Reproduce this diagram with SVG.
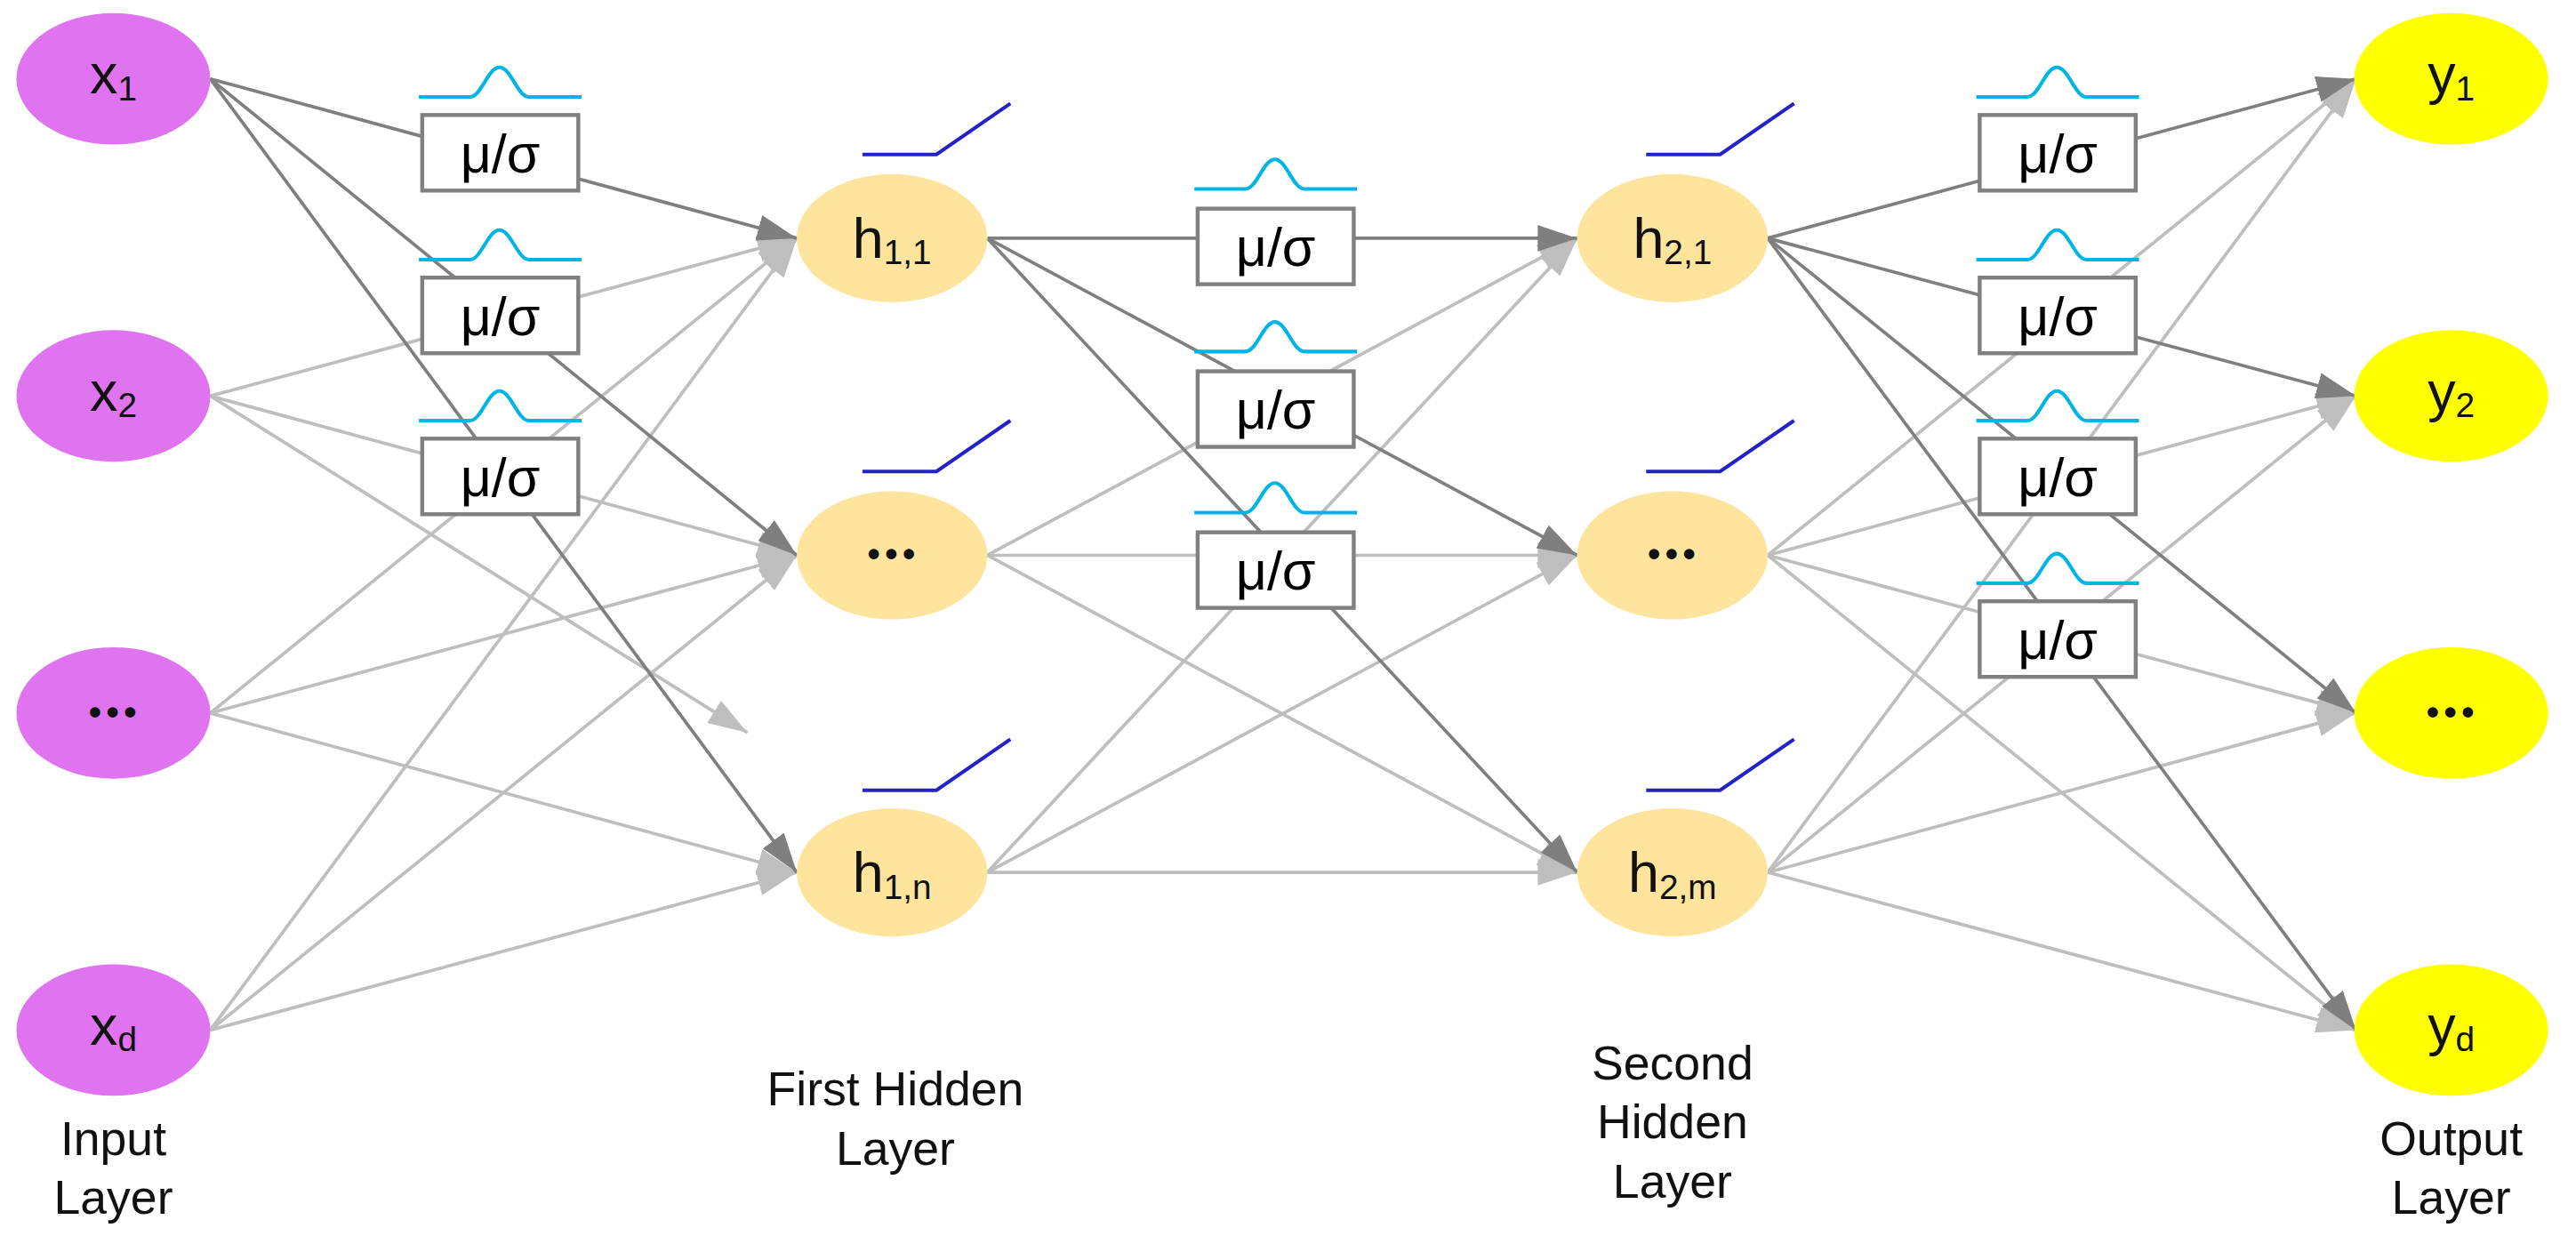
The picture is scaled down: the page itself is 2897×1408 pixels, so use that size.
<svg xmlns="http://www.w3.org/2000/svg" width="2897" height="1408" viewBox="0 0 2897 1408">
<style>
.lt{stroke:#BEBEBE;stroke-width:2;fill:none;marker-end:url(#al)}
.dk{stroke:#7F7F7F;stroke-width:2;fill:none;marker-end:url(#ad)}
.box{fill:#fff;stroke:#808080;stroke-width:2.4}
.ms{font-family:"Liberation Sans",Arial,sans-serif;font-size:33px;fill:#000;text-anchor:middle}
.g{fill:none;stroke:#00B4E6;stroke-width:2.2}
.r{fill:none;stroke:#2222C8;stroke-width:2.2}
.in{fill:#DF73F0}.hid{fill:#FFE49E}.out{fill:#FFFF00}
.lbl{font-family:"Liberation Sans",Arial,sans-serif;font-size:34px;fill:#111;text-anchor:middle}
.sub{font-size:21px}
.dots{font-family:"Liberation Sans",Arial,sans-serif;font-size:22px;font-weight:bold;fill:#111;text-anchor:middle;letter-spacing:3px}
.cap{font-family:"Liberation Sans",Arial,sans-serif;font-size:29px;fill:#111;text-anchor:middle}
</style>
<defs>
<marker id="ad" markerUnits="userSpaceOnUse" markerWidth="26" markerHeight="18" refX="24" refY="8" orient="auto"><path d="M0,0 L24,8 L0,16 z" fill="#7F7F7F"/></marker>
<marker id="al" markerUnits="userSpaceOnUse" markerWidth="26" markerHeight="18" refX="24" refY="8" orient="auto"><path d="M0,0 L24,8 L0,16 z" fill="#BEBEBE"/></marker>
<path id="gauss" class="g" d="M0,0 H31 C38,0 42,-18 49,-18 C56,-18 60,0 67,0 H99"/>
<path id="relu" class="r" d="M0,0 H45 L90,-31"/>
</defs>
<rect width="2897" height="1408" fill="#fff"/>
<g transform="scale(1.8476)">
<g id="connectors">
<line class="lt" x1="128" y1="241" x2="485" y2="145"/>
<line class="lt" x1="128" y1="241" x2="485" y2="338"/>
<line class="lt" x1="128" y1="241" x2="455" y2="446"/>
<line class="lt" x1="128" y1="434" x2="485" y2="145"/>
<line class="lt" x1="128" y1="434" x2="485" y2="338"/>
<line class="lt" x1="128" y1="434" x2="485" y2="531"/>
<line class="lt" x1="128" y1="627" x2="485" y2="145"/>
<line class="lt" x1="128" y1="627" x2="485" y2="338"/>
<line class="lt" x1="128" y1="627" x2="485" y2="531"/>
<line class="lt" x1="601" y1="338" x2="960" y2="145"/>
<line class="lt" x1="601" y1="338" x2="960" y2="338"/>
<line class="lt" x1="601" y1="338" x2="960" y2="531"/>
<line class="lt" x1="601" y1="531" x2="960" y2="145"/>
<line class="lt" x1="601" y1="531" x2="960" y2="338"/>
<line class="lt" x1="601" y1="531" x2="960" y2="531"/>
<line class="lt" x1="1076" y1="338" x2="1434" y2="48"/>
<line class="lt" x1="1076" y1="338" x2="1434" y2="241"/>
<line class="lt" x1="1076" y1="338" x2="1434" y2="434"/>
<line class="lt" x1="1076" y1="338" x2="1434" y2="627"/>
<line class="lt" x1="1076" y1="531" x2="1434" y2="48"/>
<line class="lt" x1="1076" y1="531" x2="1434" y2="241"/>
<line class="lt" x1="1076" y1="531" x2="1434" y2="434"/>
<line class="lt" x1="1076" y1="531" x2="1434" y2="627"/>
<line class="dk" x1="128" y1="48" x2="485" y2="145"/>
<line class="dk" x1="128" y1="48" x2="485" y2="338"/>
<line class="dk" x1="128" y1="48" x2="485" y2="531"/>
<line class="dk" x1="601" y1="145" x2="960" y2="145"/>
<line class="dk" x1="601" y1="145" x2="960" y2="338"/>
<line class="dk" x1="601" y1="145" x2="960" y2="531"/>
<line class="dk" x1="1076" y1="145" x2="1434" y2="48"/>
<line class="dk" x1="1076" y1="145" x2="1434" y2="241"/>
<line class="dk" x1="1076" y1="145" x2="1434" y2="434"/>
<line class="dk" x1="1076" y1="145" x2="1434" y2="627"/>
</g>
<g id="norms">
<use href="#gauss" x="255" y="59"/><rect class="box" x="257" y="70" width="95" height="46"/><text class="ms" x="304.5" y="105">μ/σ</text>
<use href="#gauss" x="255" y="158"/><rect class="box" x="257" y="169" width="95" height="46"/><text class="ms" x="304.5" y="204">μ/σ</text>
<use href="#gauss" x="255" y="256"/><rect class="box" x="257" y="267" width="95" height="46"/><text class="ms" x="304.5" y="302">μ/σ</text>
<use href="#gauss" x="727" y="115"/><rect class="box" x="729" y="127" width="95" height="46"/><text class="ms" x="776.5" y="162">μ/σ</text>
<use href="#gauss" x="727" y="214"/><rect class="box" x="729" y="226" width="95" height="46"/><text class="ms" x="776.5" y="261">μ/σ</text>
<use href="#gauss" x="727" y="312"/><rect class="box" x="729" y="324" width="95" height="46"/><text class="ms" x="776.5" y="359">μ/σ</text>
<use href="#gauss" x="1203" y="59"/><rect class="box" x="1205" y="70" width="95" height="46"/><text class="ms" x="1252.5" y="105">μ/σ</text>
<use href="#gauss" x="1203" y="158"/><rect class="box" x="1205" y="169" width="95" height="46"/><text class="ms" x="1252.5" y="204">μ/σ</text>
<use href="#gauss" x="1203" y="256"/><rect class="box" x="1205" y="267" width="95" height="46"/><text class="ms" x="1252.5" y="302">μ/σ</text>
<use href="#gauss" x="1203" y="355"/><rect class="box" x="1205" y="366" width="95" height="46"/><text class="ms" x="1252.5" y="401">μ/σ</text>
</g>
<g id="relus">
<use href="#relu" x="525" y="94"/><use href="#relu" x="525" y="287"/><use href="#relu" x="525" y="481"/>
<use href="#relu" x="1002" y="94"/><use href="#relu" x="1002" y="287"/><use href="#relu" x="1002" y="481"/>
</g>
<g id="x1"><ellipse class="in" cx="69" cy="48" rx="59" ry="40"/><text class="lbl" x="69" y="57">x<tspan class="sub" dy="4">1</tspan></text></g>
<g id="x2"><ellipse class="in" cx="69" cy="241" rx="59" ry="40"/><text class="lbl" x="69" y="250">x<tspan class="sub" dy="4">2</tspan></text></g>
<g id="xdots"><ellipse class="in" cx="69" cy="434" rx="59" ry="40"/><text class="dots" x="70" y="441">•••</text></g>
<g id="xd"><ellipse class="in" cx="69" cy="627" rx="59" ry="40"/><text class="lbl" x="69" y="636">x<tspan class="sub" dy="4">d</tspan></text></g>
<g id="h11"><ellipse class="hid" cx="543" cy="145" rx="58" ry="39"/><text class="lbl" x="543" y="157">h<tspan class="sub" dy="4">1,1</tspan></text></g>
<g id="h1dots"><ellipse class="hid" cx="543" cy="338" rx="58" ry="39"/><text class="dots" x="544" y="345">•••</text></g>
<g id="h1n"><ellipse class="hid" cx="543" cy="531" rx="58" ry="39"/><text class="lbl" x="543" y="543">h<tspan class="sub" dy="4">1,n</tspan></text></g>
<g id="h21"><ellipse class="hid" cx="1018" cy="145" rx="58" ry="39"/><text class="lbl" x="1018" y="157">h<tspan class="sub" dy="4">2,1</tspan></text></g>
<g id="h2dots"><ellipse class="hid" cx="1018" cy="338" rx="58" ry="39"/><text class="dots" x="1019" y="345">•••</text></g>
<g id="h2m"><ellipse class="hid" cx="1018" cy="531" rx="58" ry="39"/><text class="lbl" x="1018" y="543">h<tspan class="sub" dy="4">2,m</tspan></text></g>
<g id="y1"><ellipse class="out" cx="1492" cy="48" rx="59" ry="40"/><text class="lbl" x="1492" y="57">y<tspan class="sub" dy="4">1</tspan></text></g>
<g id="y2"><ellipse class="out" cx="1492" cy="241" rx="59" ry="40"/><text class="lbl" x="1492" y="250">y<tspan class="sub" dy="4">2</tspan></text></g>
<g id="ydots"><ellipse class="out" cx="1492" cy="434" rx="59" ry="40"/><text class="dots" x="1493" y="441">•••</text></g>
<g id="yd"><ellipse class="out" cx="1492" cy="627" rx="59" ry="40"/><text class="lbl" x="1492" y="636">y<tspan class="sub" dy="4">d</tspan></text></g>
<g id="captions">
<text class="cap" x="69" y="703">Input</text><text class="cap" x="69" y="739">Layer</text>
<text class="cap" x="545" y="673">First Hidden</text><text class="cap" x="545" y="709">Layer</text>
<text class="cap" x="1018" y="657">Second</text><text class="cap" x="1018" y="693">Hidden</text><text class="cap" x="1018" y="729">Layer</text>
<text class="cap" x="1492" y="703">Output</text><text class="cap" x="1492" y="739">Layer</text>
</g>
</g>
</svg>
